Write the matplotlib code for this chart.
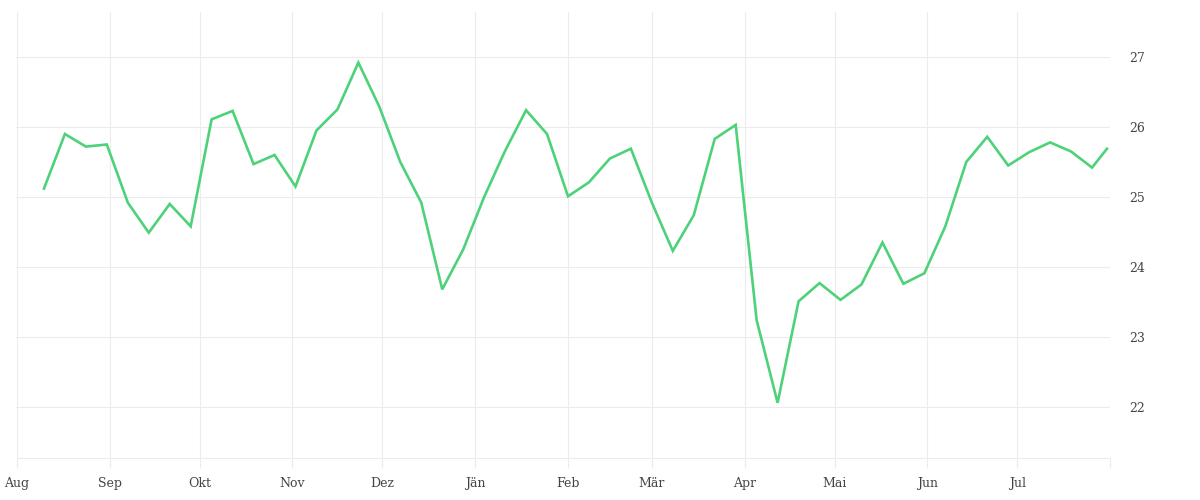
import numpy as np
import pandas as pd
import matplotlib
matplotlib.use("Agg")
import matplotlib.pyplot as plt
import matplotlib.dates as mdates

# weekly values, Aug 2022 - Jul 2023
week_start = "2022-08-10"
n_weeks = 51
last_date = "2023-07-31"

values = [
    25.12, 25.90, 25.72, 25.75, 24.92, 24.49, 24.90, 24.58, 26.11, 26.23,
    25.47, 25.60, 25.15, 25.95, 26.25, 26.92, 26.29, 25.50, 24.92, 23.68,
    24.25, 25.00, 25.66, 26.24, 25.90, 25.01, 25.21, 25.55, 25.69, 24.92,
    24.23, 24.74, 25.83, 26.03, 23.24, 22.06, 23.51, 23.77, 23.53, 23.75,
    24.35, 23.76, 23.91, 24.58, 25.50, 25.86, 25.45, 25.64, 25.78, 25.65,
    25.42, 25.69,
]

month_labels = ["Aug", "Sep", "Okt", "Nov", "Dez", "Jän", "Feb",
                "Mär", "Apr", "Mai", "Jun", "Jul"]
y_ticks = [22, 23, 24, 25, 26, 27]

dates = list(pd.date_range(week_start, periods=n_weeks, freq="7D"))
dates.append(pd.Timestamp(last_date))

LINE = "#4dd27a"
GRID = "#ececec"
TEXT = "#444444"

plt.rcParams["font.family"] = ["DejaVu Serif"]

fig = plt.figure(figsize=(12, 5), dpi=100)
ax = fig.add_axes([17 / 1200, 1 - 458 / 500, (1110 - 17) / 1200, (458 - 12) / 500])

ax.plot(dates, values, color=LINE, linewidth=1.9, solid_joinstyle="miter")

month_ticks = pd.date_range("2022-08-01", periods=13, freq="MS")
ax.set_xticks(month_ticks)
ax.set_xticklabels(month_labels + [""])
ax.set_xlim(month_ticks[0], month_ticks[-1])

ax.set_ylim(21.271, 27.643)
ax.set_yticks(y_ticks)
ax.set_yticklabels([str(t) for t in y_ticks])

ax.grid(True, color=GRID, linewidth=0.8)
ax.set_axisbelow(True)

for side in ["top", "left", "right"]:
    ax.spines[side].set_visible(False)
ax.spines["bottom"].set_color(GRID)
ax.spines["bottom"].set_linewidth(0.8)

ax.tick_params(axis="x", length=7.5, width=0.8, color=GRID, pad=6,
               labelsize=9, labelcolor=TEXT)
ax.tick_params(axis="y", left=True, right=False, labelleft=False,
               labelright=True, length=1.5, width=0.8, color=GRID,
               pad=12, labelsize=9, labelcolor=TEXT)

fig.savefig("out.png", dpi=100, facecolor="white")
